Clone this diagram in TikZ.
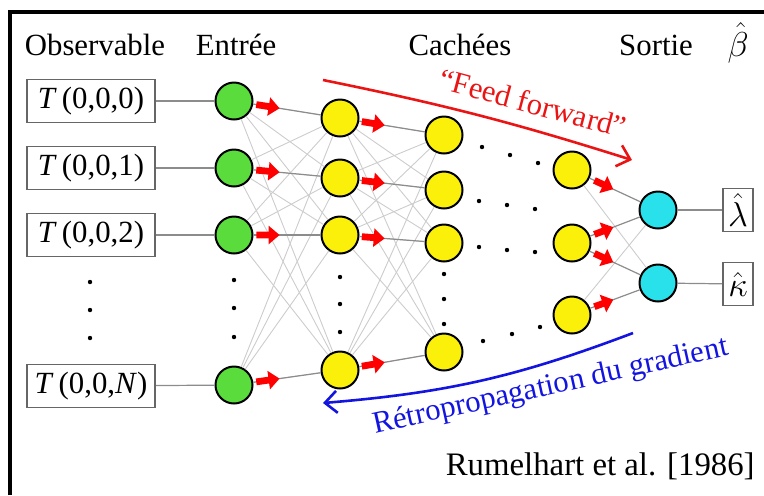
\documentclass[tikz,border=0pt]{standalone}
\usepackage{fontspec}
\setmainfont{Liberation Serif}
\usepackage{tikz}
\usetikzlibrary{arrows.meta, calc}
\definecolor{vertreseau}{RGB}{90,220,60}
\definecolor{jaunereseau}{RGB}{250,240,10}
\definecolor{cyanreseau}{RGB}{40,225,235}
\definecolor{rougeff}{RGB}{235,20,20}
\definecolor{bleuretro}{RGB}{20,20,225}
\tikzset{
  texte/.style={font=\fontsize{15.4}{18}\selectfont, inner sep=0pt},
  boite/.style={rectangle, draw=black!60, thick, fill=white, minimum height=21.5pt,
    minimum width=64pt, inner sep=0pt, font=\fontsize{15.4}{18}\selectfont},
  boitesortie/.style={boite, minimum width=15pt, inner sep=2pt, font=\fontsize{19}{20}\selectfont},
  neurone/.style={circle, draw=black, line width=1pt, minimum size=18.5pt, inner sep=0pt},
  entree/.style={neurone, fill=vertreseau},
  cachee/.style={neurone, fill=jaunereseau},
  sortie/.style={neurone, fill=cyanreseau},
  lien/.style={draw=black!45, line width=0.6pt},
  lienclair/.style={draw=black!20, line width=0.45pt},
  fleche/.style={-{Triangle[length=5.5pt, width=9pt]}, line width=3.4pt, color=red},
  grande/.style={-{Straight Barb[length=6pt, width=11pt]}, line width=1.3pt},
  point/.style={circle, fill=black, inner sep=0pt, minimum size=2.2pt}
}
\begin{document}
\begin{tikzpicture}[x=0.5pt, y=-0.5pt]
  \useasboundingbox (0,0) rectangle (764,495);
  % cadre
  \draw[line width=1.8pt] (10,495) -- (10,12) -- (764,12);
  % titres
  \node[texte, anchor=base] (tobs) at (95,55) {Observable};
  \node[texte, anchor=base] (tent) at (236,55) {Entrée};
  \node[texte, anchor=base] (tcac) at (460,55) {Cachées};
  \node[texte, anchor=base] (tsor) at (656,55) {Sortie};
  \node[texte, anchor=base, font=\fontsize{17}{19}\selectfont] (tbeta) at (738,56) {$\hat{\beta}$};
  % observables
  \node[boite] (o1) at (91,101) {\textit{T}\,(0,0,0)};
  \node[boite] (o2) at (91,168) {\textit{T}\,(0,0,1)};
  \node[boite] (o3) at (91,235) {\textit{T}\,(0,0,2)};
  \node[boite] (o4) at (91,386) {\textit{T}\,(0,0,\textit{N})};
  % couche d'entree
  \node[entree] (e1) at (234,101) {};
  \node[entree] (e2) at (234,168) {};
  \node[entree] (e3) at (234,235) {};
  \node[entree] (e4) at (234,385) {};
  % couches cachees
  \node[cachee] (a1) at (340,118) {};
  \node[cachee] (a2) at (340,178) {};
  \node[cachee] (a3) at (340,235) {};
  \node[cachee] (a4) at (340,370) {};
  \node[cachee] (b1) at (444,135) {};
  \node[cachee] (b2) at (444,190) {};
  \node[cachee] (b3) at (444,243) {};
  \node[cachee] (b4) at (444,352) {};
  \node[cachee] (c1) at (572,170) {};
  \node[cachee] (c2) at (572,243) {};
  \node[cachee] (c3) at (572,315) {};
  % sortie
  \node[sortie] (s1) at (658,210) {};
  \node[sortie] (s2) at (658,283) {};
  \node[boitesortie] (l1) at (738,210) {$\hat{\lambda}$};
  \node[boitesortie] (l2) at (738,284) {$\hat{\kappa}$};
  % points de suspension
  \foreach \y in {282,310,338} \node[point] at (90,\y) {};
  \foreach \y in {280,308,337} \node[point] at (234,\y) {};
  \foreach \y in {277,304,332} \node[point] at (340,\y) {};
  \foreach \y in {274,299,324} \node[point] at (444,\y) {};
  \foreach \x/\y in {482/147, 510/155, 538/163, 479/201, 507/205, 535/209,
                     479/247, 507/250, 535/252, 483/341, 512/334, 540/327}
    \node[point] at (\x,\y) {};
  % liaisons
  \foreach \i in {1,...,4} {
    \draw[lien] (o\i) -- (e\i);
    \foreach \j in {1,...,4} {
      \draw[lienclair] (e\i) -- (a\j);
      \draw[lienclair] (a\i) -- (b\j);
    }
  }
  \foreach \i in {1,...,4} {
    \draw[lien] (e\i) -- (a\i);
    \draw[lien] (a\i) -- (b\i);
  }
  \draw[lienclair] (c1) -- (s2);
  \draw[lienclair] (c3) -- (s1);
  \draw[lien] (c1) -- (s1);
  \draw[lien] (c2) -- (s1);
  \draw[lien] (c2) -- (s2);
  \draw[lien] (c3) -- (s2);
  \draw[lien] (s1) -- (l1);
  \draw[lien] (s2) -- (l2);
  % petites fleches rouges
  \foreach \i in {1,...,4} {
    \draw[fleche] ($(e\i)!0.21!(a\i)$) -- ($(e\i)!0.43!(a\i)$);
    \draw[fleche] ($(a\i)!0.21!(b\i)$) -- ($(a\i)!0.43!(b\i)$);
  }
  \draw[fleche] ($(c1)!0.26!(s1)$) -- ($(c1)!0.48!(s1)$);
  \draw[fleche] ($(c2)!0.26!(s1)$) -- ($(c2)!0.48!(s1)$);
  \draw[fleche] ($(c2)!0.26!(s2)$) -- ($(c2)!0.48!(s2)$);
  \draw[fleche] ($(c3)!0.26!(s2)$) -- ($(c3)!0.48!(s2)$);
  % sens de propagation
  \coordinate (ffa) at (323,80);
  \coordinate (ffb) at (632,160);
  \coordinate (rpa) at (633,333);
  \coordinate (rpb) at (323,403);
  \draw[grande, rougeff] (ffa) to[bend left=3] (ffb);
  \draw[grande, bleuretro] (rpa) to[bend left=8] (rpb);
  \node[texte, rougeff, rotate=-15] (tff) at (533,103) {“Feed forward”};
  \node[texte, bleuretro, rotate=12.5] (trp) at (551,387) {Rétropropagation du gradient};
  \node[texte, anchor=base east, font=\fontsize{16.4}{19}\selectfont] (tref) at (755,475) {Rumelhart et al. [1986]};
\end{tikzpicture}
\end{document}
